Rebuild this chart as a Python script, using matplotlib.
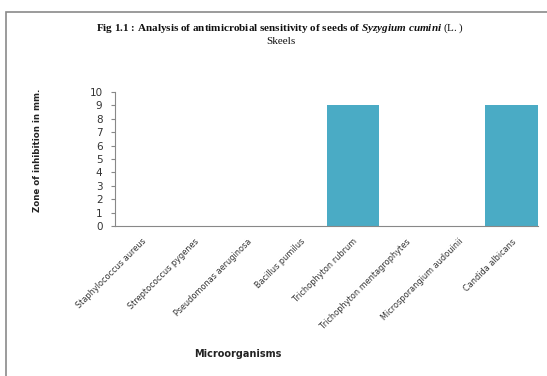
import matplotlib
matplotlib.use("Agg")
import matplotlib.pyplot as plt
from matplotlib.patches import Rectangle

categories = ["Staphylococcus aureus", "Streptococcus pygenes", "Pseudomonas aeruginosa",
              "Bacillus pumilus", "Trichophyton rubrum", "Trichophyton mentagrophytes",
              "Microsporangium audouinii", "Candida albicans"]
values = [0, 0, 0, 0, 9, 0, 0, 9]
yticks = list(range(0, 11))

plt.rcParams['mathtext.fontset'] = 'custom'
plt.rcParams['mathtext.it'] = 'Liberation Serif:italic:bold'
plt.rcParams['mathtext.rm'] = 'Liberation Serif'
plt.rcParams['mathtext.bf'] = 'Liberation Serif:bold'

fig = plt.figure(figsize=(5.47, 3.76), dpi=100)
fig.patch.set_facecolor('white')

# outer frame
fig.patches.append(Rectangle((6/547, -0.05), 1.2, 1 - 12/376 + 0.05, transform=fig.transFigure,
                             fill=False, edgecolor='#8a8a8a', linewidth=1.2))

ax = fig.add_axes([115/547, 1 - 226/376, (538 - 115)/547, (226 - 92)/376])
x = list(range(len(categories)))
ax.bar(x, values, width=1.0, color='#4aabc5', align='edge')
ax.set_xlim(0, len(categories))
ax.set_ylim(0, 10)
ax.set_yticks(yticks)
ax.set_yticklabels([str(v) for v in yticks], fontsize=7.5, color='#333333', family='DejaVu Sans')
ax.set_xticks([i + 0.5 for i in x])
ax.set_xticklabels(categories, rotation=45, ha='right', rotation_mode='anchor',
                   fontsize=5.9, color='#333333', family='DejaVu Sans')
ax.tick_params(axis='x', length=0, pad=8)
ax.tick_params(axis='y', length=3, width=0.8, color='#888888', pad=6)
for s in ['top', 'right']:
    ax.spines[s].set_visible(False)
ax.spines['left'].set_color('#888888')
ax.spines['bottom'].set_color('#888888')
ax.spines['left'].set_linewidth(0.8)
ax.spines['bottom'].set_linewidth(0.8)

fig.text(37/547, 1 - 150/376, "Zone of inhibition in mm.", rotation=90, ha='center', va='center',
         fontsize=6.2, fontweight='bold', family='DejaVu Sans', color='#222222')
fig.text(238/547, 1 - 354/376, "Microorganisms", ha='center', va='center',
         fontsize=7, fontweight='bold', family='DejaVu Sans', color='#222222')

fig.text(280/547, 1 - 28/376,
         r"Fig 1.1 : Analysis of antimicrobial sensitivity of seeds of $\mathit{Syzygium\ cumini}$ $\mathrm{(L.)}$",
         ha='center', va='center', fontsize=8.0, fontweight='bold', family='Liberation Serif', color='#111111')
fig.text(281/547, 1 - 42/376, "Skeels", ha='center', va='center', fontsize=8.0,
         family='Liberation Serif', color='#111111')

fig.savefig("out.png", dpi=100, facecolor='white')
